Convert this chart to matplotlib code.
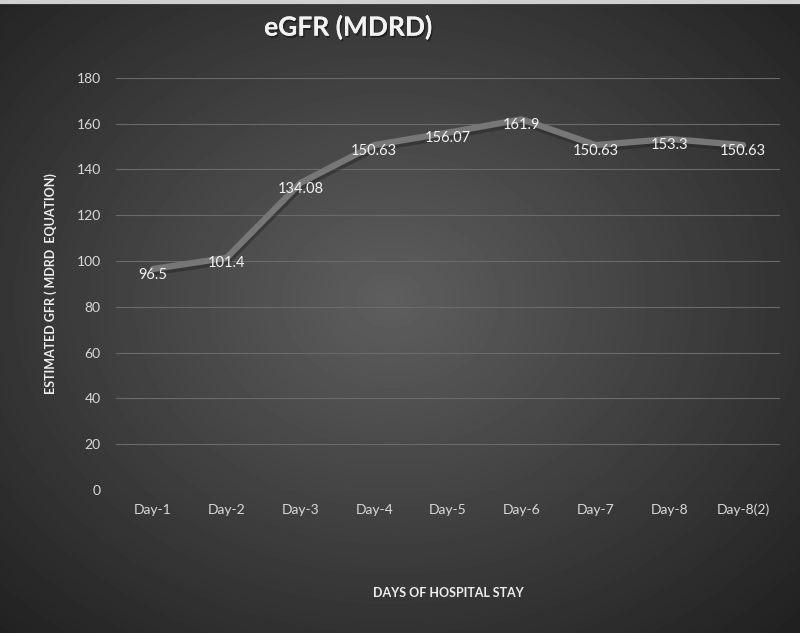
import matplotlib
matplotlib.use("Agg")
import matplotlib.pyplot as plt
import matplotlib.patheffects as pe
import numpy as np

days = ["Day-1", "Day-2", "Day-3", "Day-4", "Day-5", "Day-6", "Day-7", "Day-8", "Day-8(2)"]
egfr = [96.5, 101.4, 134.08, 150.63, 156.07, 161.9, 150.63, 153.3, 150.63]
value_labels = ["96.5", "101.4", "134.08", "150.63", "156.07", "161.9", "150.63", "153.3", "150.63"]

plt.rcParams['font.family'] = ['Lato', 'DejaVu Sans']

fig = plt.figure(figsize=(8, 6.33), dpi=100)

# radial gradient background
bg = fig.add_axes([0, 0, 1, 1])
yy, xx = np.mgrid[0:633, 0:800]
r = np.sqrt(((xx - 390) / 520.0) ** 2 + ((yy - 300) / 420.0) ** 2)
shade = np.clip(0.37 - 0.22 * r, 0.12, 0.4)
bg.imshow(shade, cmap='gray', vmin=0, vmax=1, aspect='auto', extent=[0, 1, 0, 1])
bg.axhline(0.997, color='#d0d0d0', lw=3)
bg.set_axis_off()

ax = fig.add_axes([0.145, 0.226, 0.83, 0.651])
ax.patch.set_alpha(0)
x = np.arange(len(days))

ax.plot(x, egfr, color='#262626', lw=5, alpha=0.5, solid_capstyle='round',
        transform=ax.transData + matplotlib.transforms.ScaledTranslation(1/100, -3/100, fig.dpi_scale_trans))
ax.plot(x, egfr, color='#777777', lw=4.5, solid_capstyle='round')

for xi, yi, lab in zip(x, egfr, value_labels):
    ax.annotate(lab, (xi, yi), xytext=(0, -4), textcoords='offset points',
                ha='center', va='center', color='#f2f2f2', fontsize=10.5)

ax.set_xlim(-0.5, 8.5)
ax.set_ylim(0, 180)
ax.set_yticks(range(0, 181, 20))
ax.set_xticks(x)
ax.set_xticklabels(days)
ax.grid(axis='y', color='#6a6a6a', lw=0.8)
ax.set_axisbelow(True)
for s in ax.spines.values():
    s.set_visible(False)
ax.tick_params(length=0, colors='#d9d9d9', labelsize=10)
ax.tick_params(axis='x', pad=10)
ax.tick_params(axis='y', pad=11)

ax.set_ylabel('ESTIMATED GFR ( MDRD  EQUATION)', color='#eeeeee', fontsize=9,
              fontweight='bold', labelpad=14)
ax.set_xlabel('DAYS OF HOSPITAL STAY', color='#eeeeee', fontsize=9,
              fontweight='bold', labelpad=51)

fig.text(0.435, 0.957, 'eGFR (MDRD)', color='#f2f2f2', fontsize=19, fontweight='bold',
         ha='center', va='center',
         path_effects=[pe.withSimplePatchShadow(offset=(1, -1.5), shadow_rgbFace='#111111', alpha=0.6), pe.Normal()])

fig.savefig('out.png', dpi=100)
